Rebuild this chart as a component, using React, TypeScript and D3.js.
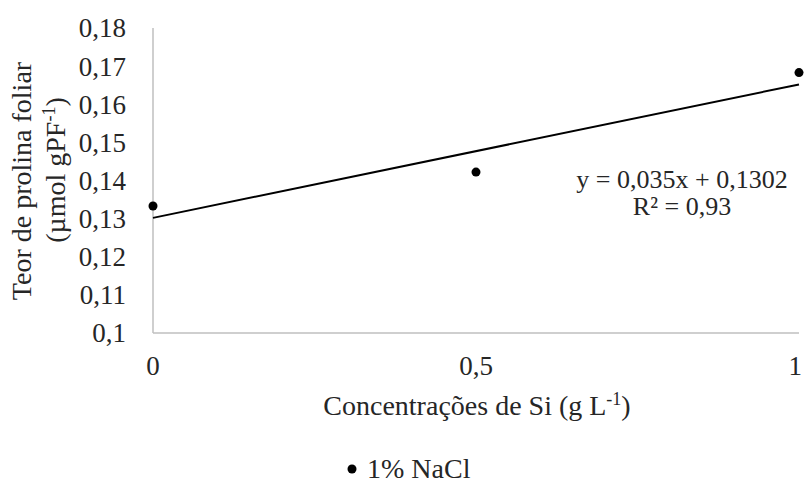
import * as d3 from 'd3'
import { useEffect, useRef } from 'react'

const concentrations = [0, 0.5, 1]
const proline = [0.1333, 0.1422, 0.1683]
const yTicks = [0.1, 0.11, 0.12, 0.13, 0.14, 0.15, 0.16, 0.17, 0.18]
const xTicks = [0, 0.5, 1]
const slope = 0.035
const intercept = 0.1302

const W = 804
const H = 485
const FONT = 'Liberation Serif, Times New Roman, serif'
const INK = '#262626'

const fmt = (v: number) => String(+v.toFixed(2)).replace('.', ',')

export default function App() {
  const svgRef = useRef<SVGSVGElement>(null)

  useEffect(() => {
    if (!svgRef.current) return
    const svg = d3.select(svgRef.current)
    svg.selectAll('*').remove()

    const x = d3.scaleLinear().domain([0, 1]).range([153, 799])
    const y = d3.scaleLinear().domain([0.1, 0.18]).range([333, 28])

    // axes (Excel style: gray lines, no tick marks)
    svg.append('line')
      .attr('x1', x(0)).attr('x2', x(0)).attr('y1', y(0.18)).attr('y2', y(0.1))
      .attr('stroke', '#bfbfbf').attr('stroke-width', 1.5)
    svg.append('line')
      .attr('x1', x(0)).attr('x2', x(1)).attr('y1', y(0.1)).attr('y2', y(0.1))
      .attr('stroke', '#bfbfbf').attr('stroke-width', 1.5)

    svg.append('g')
      .selectAll('text')
      .data(yTicks)
      .join('text')
      .attr('x', 126)
      .attr('y', (d) => y(d))
      .attr('dy', '0.35em')
      .attr('text-anchor', 'end')
      .attr('font-size', 27)
      .attr('font-family', FONT)
      .attr('fill', INK)
      .text(fmt)

    // last label sits against the right edge, as in the original
    svg.append('g')
      .selectAll('text')
      .data(xTicks)
      .join('text')
      .attr('x', (d) => (d === 1 ? 802 : x(d)))
      .attr('y', 375)
      .attr('text-anchor', (d) => (d === 1 ? 'end' : 'middle'))
      .attr('font-size', 27)
      .attr('font-family', FONT)
      .attr('fill', INK)
      .text(fmt)

    // trendline
    svg.append('line')
      .attr('x1', x(0)).attr('y1', y(intercept))
      .attr('x2', x(1)).attr('y2', y(intercept + slope))
      .attr('stroke', '#000').attr('stroke-width', 2)

    // points
    svg.append('g')
      .selectAll('circle')
      .data(concentrations.map((c, i) => [c, proline[i]]))
      .join('circle')
      .attr('cx', (d) => x(d[0]))
      .attr('cy', (d) => y(d[1]))
      .attr('r', 4.5)
      .attr('fill', '#000')

    // equation
    const eq = svg.append('g').attr('font-family', FONT).attr('font-size', 26).attr('fill', INK).attr('text-anchor', 'middle')
    eq.append('text').attr('x', 682).attr('y', 188).text('y = 0,035x + 0,1302')
    eq.append('text').attr('x', 682).attr('y', 215).text('R² = 0,93')

    // x title
    const xt = svg.append('text')
      .attr('x', 477).attr('y', 415)
      .attr('text-anchor', 'middle')
      .attr('font-size', 28)
      .attr('font-family', FONT)
      .attr('fill', INK)
    xt.append('tspan').text('Concentrações de Si (g L')
    xt.append('tspan').attr('dy', -10).attr('font-size', 18).text('-1')
    xt.append('tspan').attr('dy', 10).text(')')

    // y title
    const yt = svg.append('g')
      .attr('font-family', FONT).attr('font-size', 28).attr('fill', INK).attr('text-anchor', 'middle')
    yt.append('text').attr('transform', 'translate(31,181) rotate(-90)').text('Teor de prolina foliar')
    const yt2 = yt.append('text').attr('transform', 'translate(65,170) rotate(-90)')
    yt2.append('tspan').text('(µmol gPF')
    yt2.append('tspan').attr('dy', -10).attr('font-size', 18).text('-1')
    yt2.append('tspan').attr('dy', 10).text(')')

    // legend
    svg.append('circle').attr('cx', 352).attr('cy', 469).attr('r', 4.5).attr('fill', '#000')
    svg.append('text')
      .attr('x', 367).attr('y', 478)
      .attr('font-size', 28).attr('font-family', FONT).attr('fill', INK)
      .text('1% NaCl')
  }, [])

  return (
    <svg
      ref={svgRef}
      width={W}
      height={H}
      style={{ position: 'absolute', left: 0, top: 0, background: '#fff' }}
    />
  )
}
